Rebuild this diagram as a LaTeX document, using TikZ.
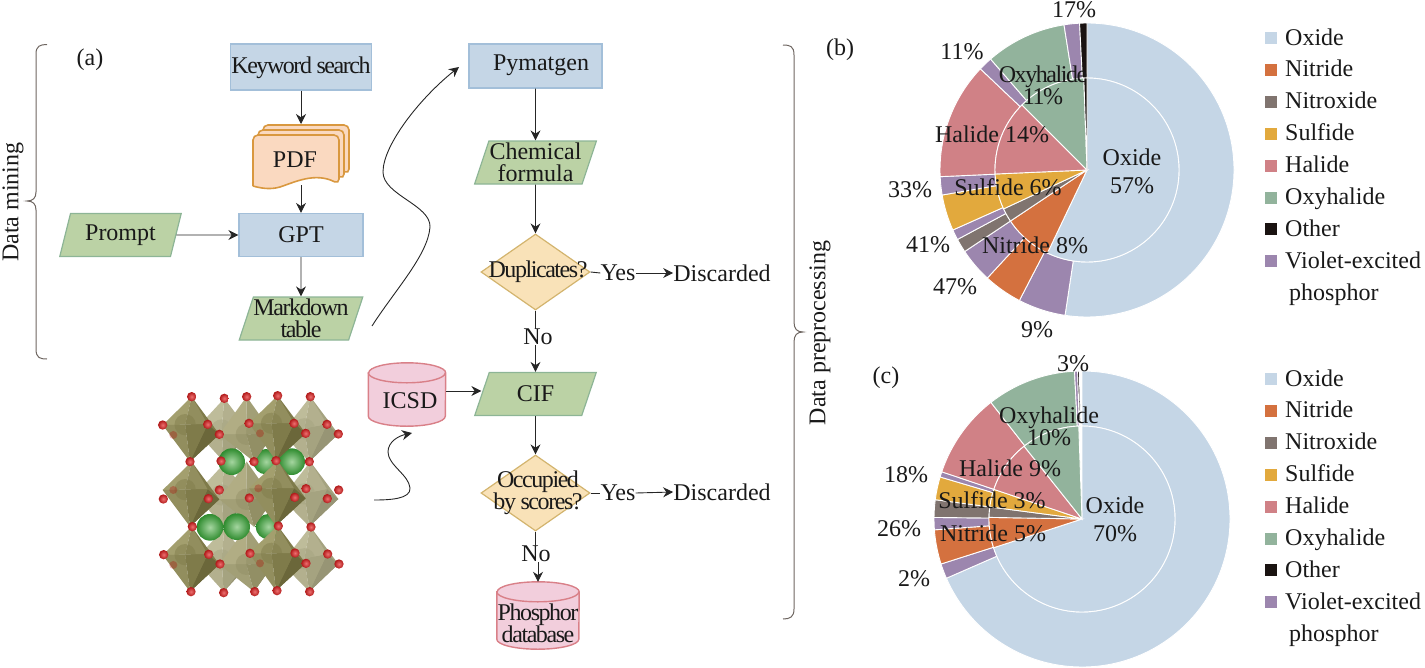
\documentclass[tikz,border=0pt]{standalone}
\usepackage{fontspec}
\setmainfont{Liberation Serif}
\newfontfamily\tightfont[LetterSpace=-6]{Liberation Serif}
\usetikzlibrary{shapes.geometric, positioning, arrows.meta, calc}

\definecolor{boxblue}{HTML}{C5D6E6}
\definecolor{boxblueline}{HTML}{A3BFD9}
\definecolor{boxgreen}{HTML}{BBD2A5}
\definecolor{boxgreenline}{HTML}{8DB596}
\definecolor{boxorange}{HTML}{FAD9C0}
\definecolor{boxorangeline}{HTML}{D9983F}
\definecolor{boxyellow}{HTML}{F9E2B8}
\definecolor{boxyellowline}{HTML}{D3B46E}
\definecolor{boxpink}{HTML}{F2CEDC}
\definecolor{boxpinkline}{HTML}{D98088}
\definecolor{braceline}{HTML}{6E6661}
\definecolor{oxidecol}{HTML}{C5D6E6}
\definecolor{nitridecol}{HTML}{D4713F}
\definecolor{nitroxidecol}{HTML}{80746F}
\definecolor{sulfidecol}{HTML}{E2A93D}
\definecolor{halidecol}{HTML}{D08186}
\definecolor{oxyhalidecol}{HTML}{92B39C}
\definecolor{othercol}{HTML}{1A1311}
\definecolor{violetcol}{HTML}{9C86AE}
\definecolor{octalight}{HTML}{A39F6E}
\definecolor{octamid}{HTML}{928E5E}
\definecolor{octadark}{HTML}{7F7B4A}
\definecolor{octadeep}{HTML}{6B673A}
\definecolor{greenin}{HTML}{A5D6A0}
\definecolor{greenout}{HTML}{2E8B2E}
\definecolor{redin}{HTML}{EE7070}
\definecolor{redout}{HTML}{B01818}

\tikzset{
    txt/.style={inner sep=0pt, align=center, text=black!90, font=\fontsize{24}{22}\selectfont},
    tighttxt/.style={txt, font=\fontsize{24}{22}\selectfont\tightfont},
    procbox/.style={rectangle, draw=boxblueline, fill=boxblue, line width=1.2pt, inner sep=0pt},
    databox/.style={trapezium, trapezium left angle=70, trapezium right angle=110, trapezium stretches=true,
        draw=boxgreenline, fill=boxgreen, line width=1.2pt, inner sep=0pt, align=center, text=black!90,
        minimum width=122pt, minimum height=43pt, font=\fontsize{24}{22}\selectfont},
    choice/.style={diamond, draw=boxyellowline, fill=boxyellow, line width=1.2pt, inner sep=0pt, aspect=1.4},
    store/.style={rectangle, inner sep=0pt},
    storeline/.style={draw=boxpinkline, fill=boxpink, line width=1.4pt},
    flow/.style={-{Stealth[length=10pt,width=10pt]}, line width=0.9pt, black!85},
    plainflow/.style={line width=0.9pt, black!85},
    bracket/.style={draw=braceline, line width=1pt},
    sector/.style={draw=white, line width=0.9pt}
}

% can drawn on a named node: name, half width, height of the end
\newcommand{\dbcan}[3]{
    \path[storeline] ($(#1.north west)+(0,#3)$) -- ($(#1.south west)+(0,-#3)$)
        arc[start angle=180, end angle=0, x radius=#2, y radius=#3]
        -- ($(#1.north east)+(0,#3)$) arc[start angle=0, end angle=-180, x radius=#2, y radius=#3] -- cycle;
    \path[storeline, fill=none] ($(#1.north west)+(0,#3)$) arc[start angle=180, end angle=0, x radius=#2, y radius=#3];
}
% ring piece: colour, inner radius, outer radius, from, to (clockwise from the top)
\newcommand{\ringpiece}[5]{
    \path[sector, fill=#1] (#4-90:#2) -- (#4-90:#3) arc[start angle=#4-90, end angle=#5-90, radius=#3]
        -- (#5-90:#2) arc[start angle=#5-90, end angle=#4-90, radius=#2] -- cycle;
}
% one octahedron: top, left, right, bottom, rear corner, shade
\newcommand{\octa}[6]{
    \fill[octadark!#6!white] #1 -- #5 -- #4 -- cycle;
    \fill[octadeep!#6!white] #3 -- #5 -- #4 -- cycle;
    \fill[octalight!#6!white] #1 -- #2 -- ($#2!.5!#3$) -- cycle;
    \fill[octamid!#6!white] #1 -- #3 -- ($#2!.5!#3$) -- cycle;
    \fill[octamid!#6!white] #4 -- #2 -- ($#2!.5!#3$) -- cycle;
    \fill[octadark!#6!white] #4 -- #3 -- ($#2!.5!#3$) -- cycle;
    \fill[octadark!#6!white, opacity=.45] ($#2!.5!#3$) circle (32);
}

\begin{document}
\begin{tikzpicture}[x=1pt, y=-1pt]
    \useasboundingbox (0,0) rectangle (1425,667);

    % brackets
    \draw[bracket] (47,359) .. controls (40,359) and (36,358) .. (36,349) -- (36,210)
        .. controls (36,204) and (33,201) .. (27,201) .. controls (33,201) and (36,198) .. (36,192) -- (36,54)
        .. controls (36,46) and (40,44.5) .. (47,44.5);
    \draw[bracket] (783,45) .. controls (790,45) and (794,46) .. (794,55) -- (794,322)
        .. controls (794,329) and (797,332) .. (803,332) .. controls (797,332) and (794,335) .. (794,342) -- (794,609)
        .. controls (794,617) and (790,619) .. (783,619);
    \node[txt, rotate=90] (miningtxt) at (13,202) {Data mining};
    \node[txt, rotate=90] (preptxt) at (820,333) {Data preprocessing};

    \node[txt] (panela) at (90,60) {(a)};
    \node[txt] (panelb) at (840,50) {(b)};
    \node[txt] (panelc) at (886,378) {(c)};

    % data mining
    \node[procbox, minimum width=141pt, minimum height=46pt] (keyword) at (301,67) {};
    \node[tighttxt] (keywordtxt) at (301,68) {Keyword search};
    \foreach \dx/\dy in {10/-10, 5/-5, 0/0}{
        \draw[draw=boxorangeline, fill=boxorange, line width=1.6pt, rounded corners=5pt, shift={(\dx,\dy)}]
            (253,186) -- (253,135) -- (339,135) -- (339,184)
            [sharp corners] .. controls (315,172) and (295,182) .. (280,187) .. controls (270,190) and (260,188) .. (253,186);
    }
    \node[txt, minimum width=86pt, minimum height=50pt] (pdf) at (295,160) {PDF};
    \coordinate (pdftop) at (301,124);
    \node[procbox, minimum width=124pt, minimum height=43pt, txt, draw=boxblueline] (gpt) at (301,235) {GPT};
    \node[databox] (prompt) at (120.5,235) {Prompt};
    \node[databox, font=\fontsize{24}{22}\selectfont\tightfont] (markdown) at (301,318.5) {Markdown\\table};

    \draw[flow] (keyword.south) -- (pdftop);
    \draw[flow] (pdf.south -| gpt.north) -- (gpt.north);
    \draw[flow] (prompt.east) -- (gpt.west);
    \draw[flow] (gpt.south) -- (markdown.north);

    % data preprocessing
    \node[procbox, minimum width=133pt, minimum height=44pt] (pymatgen) at (535.5,66) {};
    \node[txt] (pymatgentxt) at (541,65) {Pymatgen};
    \node[databox] (formula) at (535.5,162.5) {Chemical\\formula};
    \node[choice, minimum width=109pt, minimum height=76pt] (duplicates) at (535.5,272) {};
    \node[tighttxt] (duplicatestxt) at (538,272) {Duplicates?};
    \node[txt] (yesa) at (618,273) {Yes};
    \node[txt] (discarda) at (722,273) {Discarded};
    \node[txt] (noa) at (538,337) {No};
    \node[databox] (cif) at (535.5,394) {CIF};
    \node[store, minimum width=77pt, minimum height=63pt] (icsd) at (407,394.5) {};
    \dbcan{icsd}{38.5}{10}
    \node[txt] (icsdtxt) at (410,401) {ICSD};
    \node[choice, minimum width=109pt, minimum height=76pt] (occupied) at (535.5,493) {};
    \node[tighttxt] (occupiedtxt) at (538,493) {Occupied\\by scores?};
    \node[txt] (yesb) at (618,493) {Yes};
    \node[txt] (discardb) at (722,492) {Discarded};
    \node[txt] (nob) at (536,554) {No};
    \node[store, minimum width=82pt, minimum height=67pt] (phosphor) at (538,615.5) {};
    \dbcan{phosphor}{41}{10}
    \node[tighttxt] (phosphortxt) at (538,623) {Phosphor\\database};

    \draw[flow] (pymatgen.south) -- (formula.north);
    \draw[flow] (formula.south) -- (duplicates.north);
    \draw[plainflow] (duplicates.east) -- (yesa.west);
    \draw[flow] (yesa.east) -- (discarda.west);
    \draw[plainflow] (duplicates.south) -- (noa.north -| duplicates.south);
    \draw[flow] (noa.south -| cif.north) -- (cif.north);
    \draw[flow] (icsd.east |- 0,391) -- (cif.west |- 0,391);
    \draw[flow] (cif.south) -- (occupied.north);
    \draw[plainflow] (occupied.east) -- (yesb.west);
    \draw[flow] (yesb.east) -- (discardb.west);
    \draw[plainflow] (occupied.south) -- (nob.north -| occupied.south);
    \draw[flow] (nob.south -| phosphor.north) -- (phosphor.north);

    % curved arrows
    \coordinate (minefrom) at (372,326);
    \coordinate (mineto) at (459,67);
    \draw[flow] (minefrom) .. controls (395,290) and (428,255) .. (430,227)
        .. controls (431,205) and (383,195) .. (383,172)
        .. controls (383,145) and (420,98) .. (mineto);
    \coordinate (crystalfrom) at (374,500);
    \coordinate (crystalto) at (412,433);
    \draw[flow] (crystalfrom) .. controls (390,500) and (411,499) .. (410,488)
        .. controls (409,475) and (388,465) .. (388,452)
        .. controls (388,442) and (398,436) .. (crystalto);

    % crystal
    \begin{scope}[shift={(130,370)}, x=0.3333pt, y=-0.3333pt]
        \foreach \dy in {0,195,390}{
            \octa{(283,{85+\dy})}{(195,{180+\dy})}{(355,{180+\dy})}{(281,{275+\dy})}{(355,{195+\dy})}{70}
            \octa{(541,{80+\dy})}{(455,{190+\dy})}{(591,{163+\dy})}{(538,{275+\dy})}{(625,{192+\dy})}{70}
        }
        \foreach \cx/\cy in {408/275, 415/470}{
            \shade[inner color=greenin, outer color=greenout] (\cx,\cy) circle (38);
        }
        \foreach \dy in {0,195,390}{
            \octa{(350,{80+\dy})}{(268,{193+\dy})}{(430,{193+\dy})}{(372,{275+\dy})}{(400,{230+\dy})}{85}
        }
        \foreach \cx/\cy in {305/275, 485/275, 240/472, 320/470}{
            \shade[inner color=greenin, outer color=greenout] (\cx,\cy) circle (40);
        }
        \foreach \dy in {0,195,390}{
            \octa{(185,{80+\dy})}{(98,{165+\dy})}{(233,{163+\dy})}{(180,{275+\dy})}{(268,{193+\dy})}{100}
            \octa{(443,{77+\dy})}{(357,{160+\dy})}{(492,{160+\dy})}{(438,{272+\dy})}{(527,{190+\dy})}{100}
        }
        \foreach \cx/\cy in {130/195,390/190,130/360,385/355,130/585,390/580}{
            \fill[red!70!black, opacity=.3] (\cx,\cy) circle (12);
        }
        \foreach \cx/\cy in {185/80,283/85,350/80,443/77,541/80,98/165,233/163,357/160,492/160,591/163,
            268/193,527/190,625/192,180/275,273/273,372/275,438/272,538/275,268/360,528/356,626/360,
            100/387,235/386,358/384,494/382,592/386,187/470,445/468,543/471,101/554,236/553,360/550,495/549,593/552,
            270/582,528/580,627/582,183/665,281/668,374/665,441/662,539/665}{
            \shade[inner color=redin, outer color=redout] (\cx,\cy) circle (14);
        }
    \end{scope}

    % pie (b)
    \begin{scope}[shift={(1087,170)}]
        \foreach \col/\from/\to in {oxidecol/0/188.6, violetcol/188.6/207.4, nitridecol/207.4/222.7,
            violetcol/222.7/236.3, nitroxidecol/236.3/241.8, violetcol/241.8/245.9, sulfidecol/245.9/260.2,
            violetcol/260.2/267.4, halidecol/267.4/313.5, violetcol/313.5/319, oxyhalidecol/319/351,
            violetcol/351/357.1, othercol/357.1/360}{
            \ringpiece{\col}{92}{147}{\from}{\to}
        }
        \foreach \col/\from/\to in {oxidecol/0/205.5, nitridecol/205.5/236.3, nitroxidecol/236.3/245,
            sulfidecol/245/267.5, halidecol/267.5/315, oxyhalidecol/315/358, othercol/358/360}{
            \ringpiece{\col}{0}{92}{\from}{\to}
        }
    \end{scope}
    \node[txt] (bseventeen) at (1074,10) {17\%};
    \node[txt] (beleven) at (962,52) {11\%};
    \node[tighttxt] (boxyhalide) at (1043,85) {Oxyhalide\\11\%};
    \node[txt] (bhalide) at (992,134) {Halide 14\%};
    \node[txt] (bthirty) at (910,190) {33\%};
    \node[txt] (bsulfide) at (1008,187) {Sulfide 6\%};
    \node[txt] (bforty) at (928,245) {41\%};
    \node[txt] (bnitride) at (1035,245) {Nitride 8\%};
    \node[txt] (bfortyseven) at (955,287) {47\%};
    \node[txt] (bnine) at (1037,330) {9\%};
    \node[txt, font=\fontsize{24}{28}\selectfont] (boxide) at (1132,171) {Oxide\\57\%};

    % pie (c)
    \begin{scope}[shift={(1082,519)}]
        \foreach \col/\from/\to in {oxidecol/0/246.4, violetcol/246.4/252.3, nitridecol/252.3/265.8,
            violetcol/265.8/270.6, nitroxidecol/270.6/277.5, sulfidecol/277.5/286.5, violetcol/286.5/288.6,
            halidecol/288.6/322, oxyhalidecol/322/357.1, violetcol/357.1/358.3, othercol/358.3/359}{
            \ringpiece{\col}{93}{148}{\from}{\to}
        }
        \foreach \col/\from/\to in {oxidecol/0/252, nitridecol/252/271, nitroxidecol/271/277.5,
            sulfidecol/277.5/288.6, halidecol/288.6/321.5, oxyhalidecol/321.5/358}{
            \ringpiece{\col}{0}{93}{\from}{\to}
        }
    \end{scope}
    \node[txt] (cthree) at (1073,364) {3\%};
    \node[txt] (coxyhalide) at (1049,426) {Oxyhalide\\10\%};
    \node[txt] (chalide) at (1010,468) {Halide 9\%};
    \node[txt] (ceighteen) at (906,475) {18\%};
    \node[txt] (csulfide) at (992,500) {Sulfide 3\%};
    \node[txt] (ctwentysix) at (899,529) {26\%};
    \node[txt] (cnitride) at (993,533) {Nitride 5\%};
    \node[txt] (ctwo) at (914,579) {2\%};
    \node[txt, font=\fontsize{24}{28}\selectfont] (coxide) at (1115,519) {Oxide\\70\%};

    % legends
    \foreach \top/\pfx in {38/b, 379/c}{
        \foreach \col/\name [count=\row from 0] in {oxidecol/Oxide, nitridecol/Nitride, nitroxidecol/Nitroxide,
            sulfidecol/Sulfide, halidecol/Halide, oxyhalidecol/Oxyhalide, othercol/Other, violetcol/Violet-excited}{
            \fill[\col] (1265,{\top+31.9*\row-6}) rectangle (1277,{\top+31.9*\row+6});
            \node[txt, anchor=base west] (\pfx leg\row) at (1285,{\top+31.9*\row+7}) {\name};
        }
        \node[txt, anchor=base west] (\pfx legtail) at (1289,{\top+31.9*8+7}) {phosphor};
    }
\end{tikzpicture}
\end{document}
